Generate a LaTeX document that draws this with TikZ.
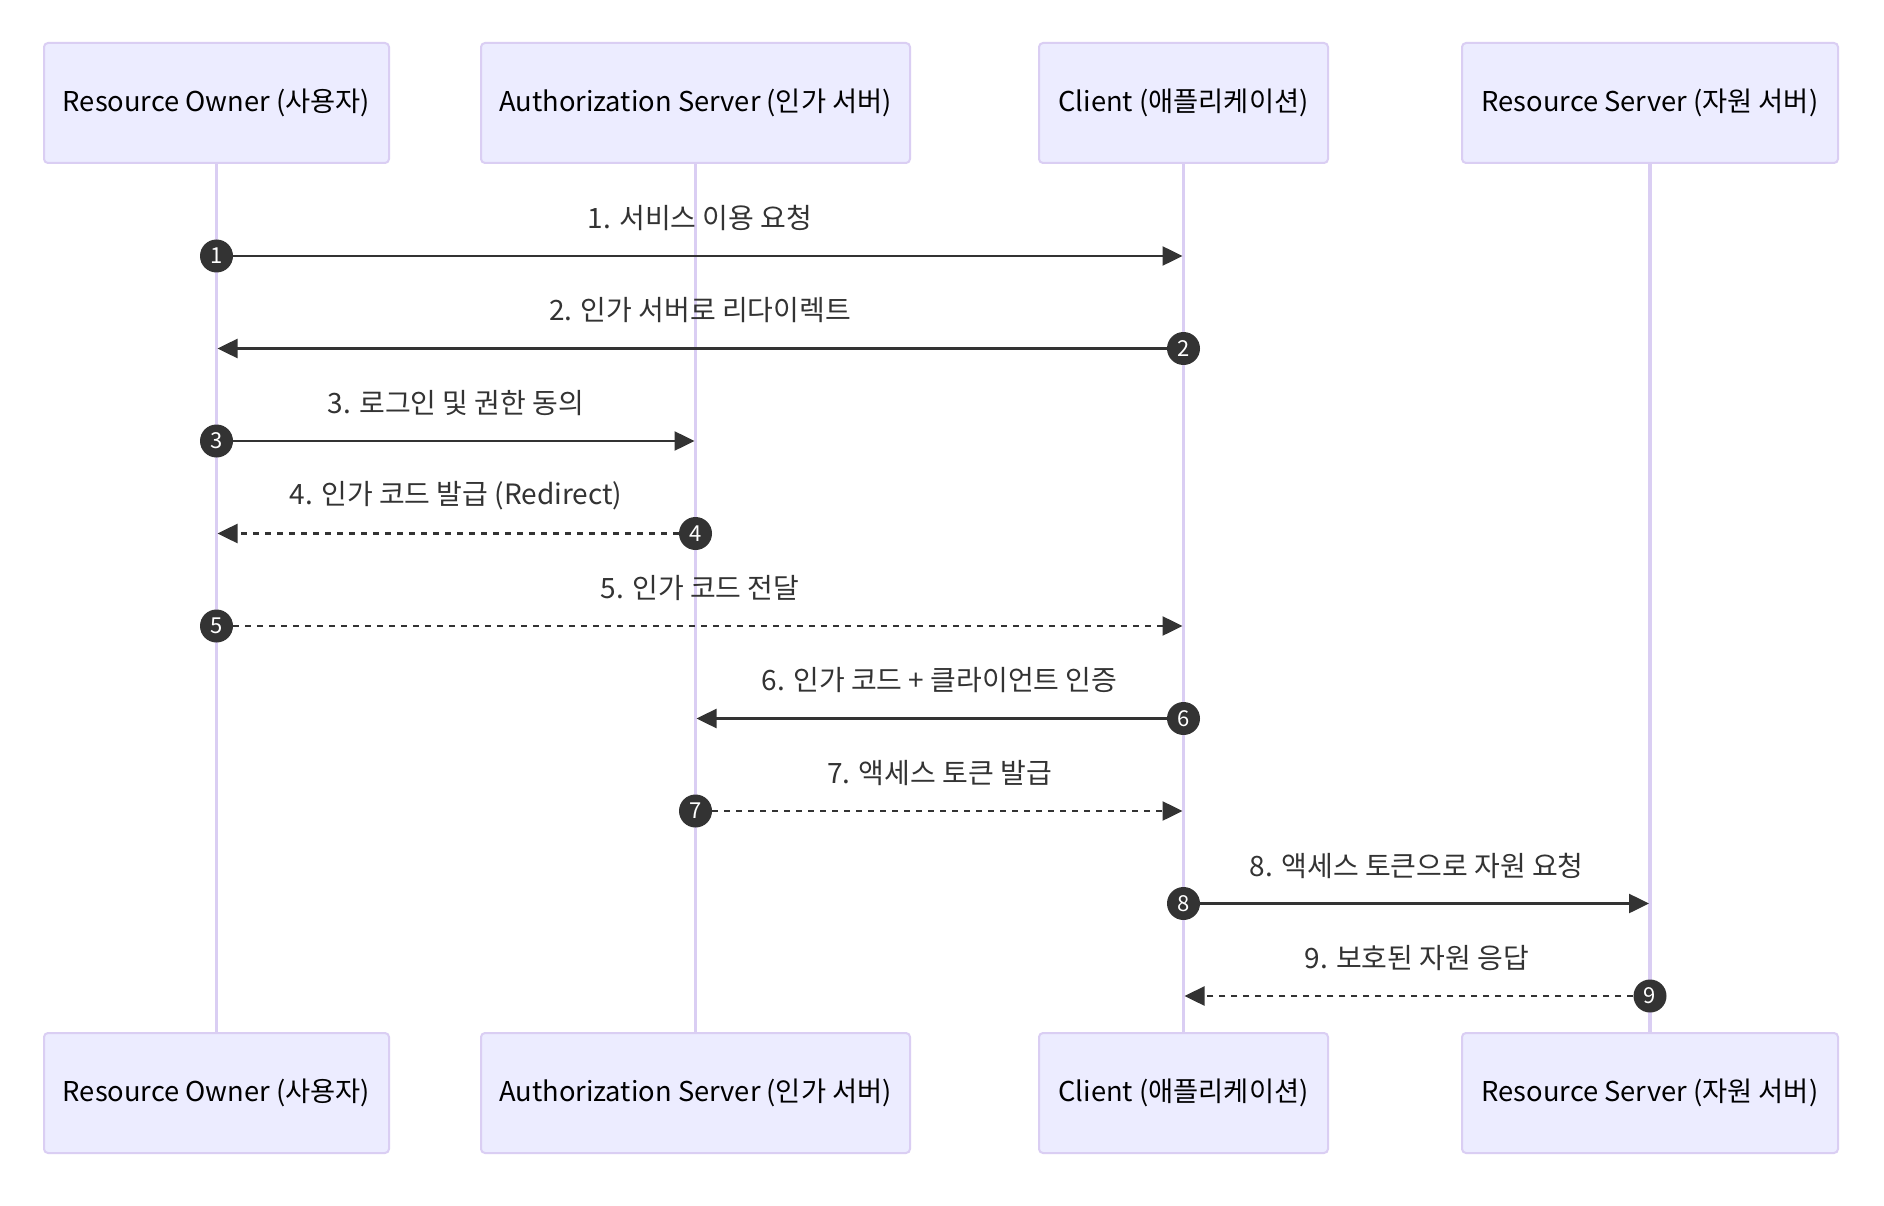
\documentclass[tikz,border=0pt]{standalone}
\usepackage{fontspec}
\setmainfont{Noto Sans CJK KR}
\usetikzlibrary{arrows.meta,calc}
\definecolor{actfill}{HTML}{ECECFF}
\definecolor{actline}{HTML}{DACEF3}
\definecolor{ink}{HTML}{333333}
\tikzset{
  actor/.style={draw=actline, line width=2pt, fill=actfill, rounded corners=4pt,
    minimum height=120pt, inner sep=0pt, text=black,
    font=\fontsize{27.3}{32}\selectfont},
  life/.style={draw=actline, line width=3.5pt},
  msg/.style={draw=ink, line width=2.5pt, -{Triangle[length=20pt,width=19pt]}, shorten >=1pt},
  dmsg/.style={msg, dash pattern=on 6pt off 6pt},
  num/.style={circle, fill=ink, text=white, minimum size=33pt, inner sep=0pt,
    font=\fontsize{22}{22}\selectfont},
  lbl/.style={text=ink, inner sep=0pt, font=\fontsize{28}{32}\selectfont},
}
\newcommand{\mymsg}[6]{%
  \node[num] (n#1) at (#2.south |- 0,#4) {#1};
  \coordinate (t#1) at (#3.south |- 0,#4);
  \draw[#5] (n#1) -- (t#1);
  \node[lbl] (l#1) at ($(#2.south |- 0,#4)!0.5!(#3.south |- 0,#4) + (0,-38)$) {#6};
}
\begin{document}
\begin{tikzpicture}[x=1pt,y=-1pt]
\useasboundingbox[fill=white] (0,0) rectangle (1884,1206);
% actors top
\node[actor, minimum width=345pt] (ro) at (216.5,103) {Resource Owner (사용자)};
\node[actor, minimum width=429pt] (as) at (695.5,103) {Authorization Server (인가 서버)};
\node[actor, minimum width=289pt] (cl) at (1183.5,103) {Client (애플리케이션)};
\node[actor, minimum width=376pt] (rs) at (1650,103) {Resource Server (자원 서버)};
% actors bottom
\node[actor, minimum width=345pt] (rob) at (216.5,1093) {Resource Owner (사용자)};
\node[actor, minimum width=429pt] (asb) at (695.5,1093) {Authorization Server (인가 서버)};
\node[actor, minimum width=289pt] (clb) at (1183.5,1093) {Client (애플리케이션)};
\node[actor, minimum width=376pt] (rsb) at (1650,1093) {Resource Server (자원 서버)};
% lifelines
\draw[life] (ro.south) -- (rob.north);
\draw[life] (as.south) -- (asb.north);
\draw[life] (cl.south) -- (clb.north);
\draw[life] (rs.south) -- (rsb.north);
% messages
\mymsg{1}{ro}{cl}{256}{msg}{1. 서비스 이용 요청}
\mymsg{2}{cl}{ro}{348.5}{msg}{2. 인가 서버로 리다이렉트}
\mymsg{3}{ro}{as}{441}{msg}{3. 로그인 및 권한 동의}
\mymsg{4}{as}{ro}{533.5}{dmsg}{4. 인가 코드 발급 (Redirect)}
\mymsg{5}{ro}{cl}{626}{dmsg}{5. 인가 코드 전달}
\mymsg{6}{cl}{as}{718.5}{msg}{6. 인가 코드 + 클라이언트 인증}
\mymsg{7}{as}{cl}{811}{dmsg}{7. 액세스 토큰 발급}
\mymsg{8}{cl}{rs}{903.5}{msg}{8. 액세스 토큰으로 자원 요청}
\mymsg{9}{rs}{cl}{996}{dmsg}{9. 보호된 자원 응답}
\end{tikzpicture}
\end{document}
